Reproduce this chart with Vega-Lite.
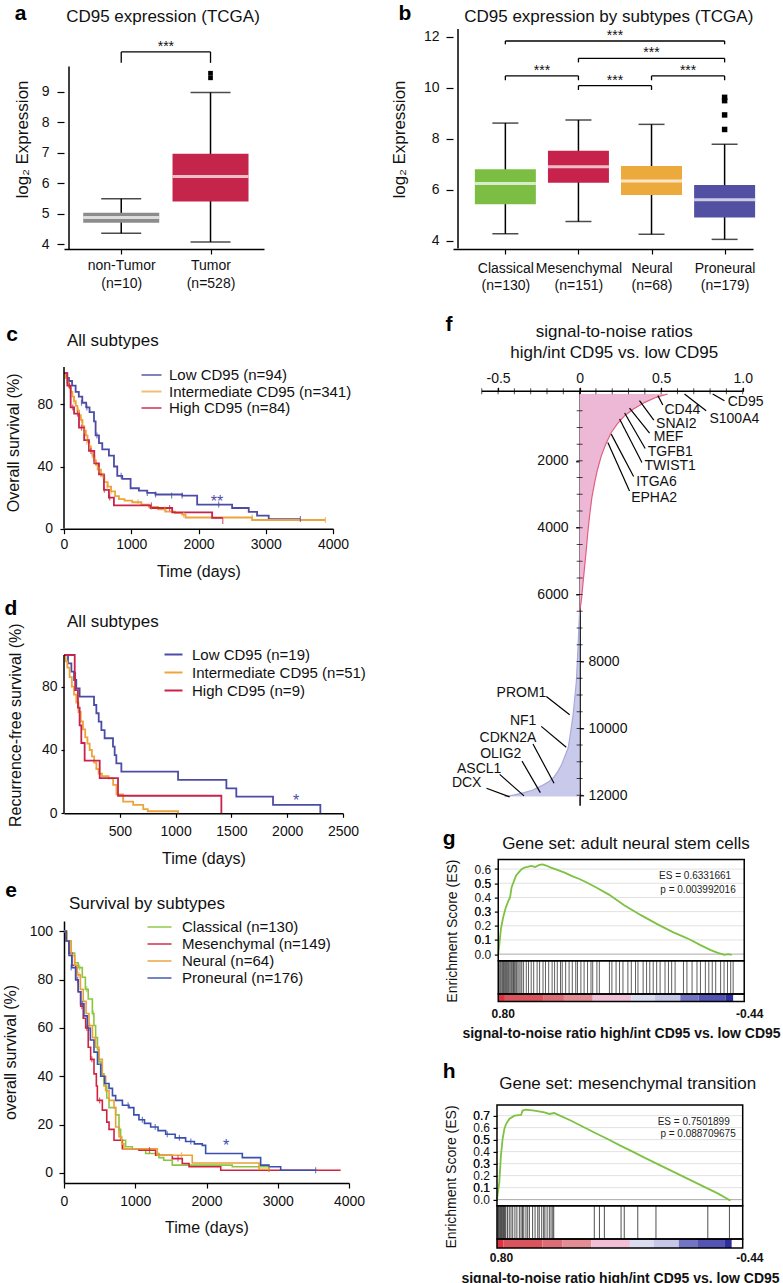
{
"$schema": "https://vega.github.io/schema/vega-lite/v6.json",
"padding": {"left": 2, "top": 2, "right": 0, "bottom": 0},
"autosize": {"type": "pad"},
"spacing": 24,
"resolve": {"scale": {"color": "independent"}, "legend": {"color": "independent"}},
"config": {
  "font": "Liberation Sans",
  "view": {"stroke": null},
  "axis": {"grid": false, "domainColor": "#000", "tickColor": "#000", "labelColor": "#111", "titleColor": "#111", "labelFontSize": 14, "titleFontSize": 16, "titleFontWeight": "normal", "labelFlush": false, "labelOverlap": false, "labelBound": false, "domainWidth": 1.5, "tickWidth": 1.2},
  "legend": {"labelFontSize": 15, "labelLimit": 300, "symbolStrokeWidth": 2, "padding": 0, "labelColor": "#111", "titlePadding": 0},
  "text": {"color": "#111", "font": "Liberation Sans"}
},
"datasets": {
  "aBox": [{"i":0,"grp":"non-Tumor","lo":4.36,"q1":4.70,"med":4.87,"q3":5.03,"hi":5.49},{"i":1,"grp":"Tumor","lo":4.07,"q1":5.40,"med":6.22,"q3":6.96,"hi":8.97}],
  "aOut": [{"i":1,"v":9.45},{"i":1,"v":9.60}],
  "aSig": [{"x1":0,"x2":1,"xm":0.5,"y":10.30,"yt":9.94,"label":"***"}],
  "bBox": [{"i":0,"grp":"Classical","lo":4.27,"q1":5.43,"med":6.24,"q3":6.80,"hi":8.61},{"i":1,"grp":"Mesenchymal","lo":4.75,"q1":6.27,"med":6.90,"q3":7.53,"hi":8.73},{"i":2,"grp":"Neural","lo":4.25,"q1":5.79,"med":6.34,"q3":6.93,"hi":8.56},{"i":3,"grp":"Proneural","lo":4.05,"q1":4.91,"med":5.60,"q3":6.18,"hi":7.78}],
  "bOut": [{"i":3,"v":8.36},{"i":3,"v":8.93},{"i":3,"v":9.49},{"i":3,"v":9.62}],
  "bSig": [{"x1":0,"x2":3,"xm":1.5,"y":11.83,"yt":11.70,"label":"***"},{"x1":1,"x2":3,"xm":2,"y":11.15,"yt":10.99,"label":"***"},{"x1":0,"x2":1,"xm":0.5,"y":10.46,"yt":10.29,"label":"***"},{"x1":1,"x2":2,"xm":1.5,"y":10.08,"yt":9.91,"label":"***"},{"x1":2,"x2":3,"xm":2.5,"y":10.46,"yt":10.29,"label":"***"}],
  "cKM": [
    {"grp":"Low CD95 (n=94)","t":0,"s":100},{"grp":"Low CD95 (n=94)","t":40,"s":97},{"grp":"Low CD95 (n=94)","t":74,"s":95},{"grp":"Low CD95 (n=94)","t":120,"s":92},{"grp":"Low CD95 (n=94)","t":173,"s":88},{"grp":"Low CD95 (n=94)","t":220,"s":85},{"grp":"Low CD95 (n=94)","t":272,"s":81},{"grp":"Low CD95 (n=94)","t":330,"s":78},{"grp":"Low CD95 (n=94)","t":380,"s":75},{"grp":"Low CD95 (n=94)","t":446,"s":69},{"grp":"Low CD95 (n=94)","t":470,"s":60},{"grp":"Low CD95 (n=94)","t":520,"s":55},{"grp":"Low CD95 (n=94)","t":569,"s":51},{"grp":"Low CD95 (n=94)","t":668,"s":47},{"grp":"Low CD95 (n=94)","t":743,"s":40},{"grp":"Low CD95 (n=94)","t":792,"s":34},{"grp":"Low CD95 (n=94)","t":866,"s":32},{"grp":"Low CD95 (n=94)","t":990,"s":26},{"grp":"Low CD95 (n=94)","t":1114,"s":24.5},{"grp":"Low CD95 (n=94)","t":1238,"s":23},{"grp":"Low CD95 (n=94)","t":1361,"s":22},{"grp":"Low CD95 (n=94)","t":1757,"s":21.3},{"grp":"Low CD95 (n=94)","t":1980,"s":15.5},{"grp":"Low CD95 (n=94)","t":2500,"s":13.3},{"grp":"Low CD95 (n=94)","t":2747,"s":10.8},{"grp":"Low CD95 (n=94)","t":2871,"s":8.4},{"grp":"Low CD95 (n=94)","t":3044,"s":6.2},{"grp":"Low CD95 (n=94)","t":3515,"s":6.2},
    {"grp":"Intermediate CD95 (n=341)","t":0,"s":100},{"grp":"Intermediate CD95 (n=341)","t":25,"s":97},{"grp":"Intermediate CD95 (n=341)","t":50,"s":94},{"grp":"Intermediate CD95 (n=341)","t":75,"s":91},{"grp":"Intermediate CD95 (n=341)","t":100,"s":88},{"grp":"Intermediate CD95 (n=341)","t":125,"s":85},{"grp":"Intermediate CD95 (n=341)","t":150,"s":82},{"grp":"Intermediate CD95 (n=341)","t":175,"s":79},{"grp":"Intermediate CD95 (n=341)","t":200,"s":76},{"grp":"Intermediate CD95 (n=341)","t":225,"s":73},{"grp":"Intermediate CD95 (n=341)","t":250,"s":70},{"grp":"Intermediate CD95 (n=341)","t":275,"s":66},{"grp":"Intermediate CD95 (n=341)","t":300,"s":63},{"grp":"Intermediate CD95 (n=341)","t":325,"s":60},{"grp":"Intermediate CD95 (n=341)","t":350,"s":56},{"grp":"Intermediate CD95 (n=341)","t":375,"s":53},{"grp":"Intermediate CD95 (n=341)","t":400,"s":50},{"grp":"Intermediate CD95 (n=341)","t":425,"s":47},{"grp":"Intermediate CD95 (n=341)","t":450,"s":44},{"grp":"Intermediate CD95 (n=341)","t":475,"s":41},{"grp":"Intermediate CD95 (n=341)","t":500,"s":38},{"grp":"Intermediate CD95 (n=341)","t":550,"s":34},{"grp":"Intermediate CD95 (n=341)","t":600,"s":30},{"grp":"Intermediate CD95 (n=341)","t":650,"s":27},{"grp":"Intermediate CD95 (n=341)","t":700,"s":24},{"grp":"Intermediate CD95 (n=341)","t":760,"s":21},{"grp":"Intermediate CD95 (n=341)","t":817,"s":19},{"grp":"Intermediate CD95 (n=341)","t":900,"s":18},{"grp":"Intermediate CD95 (n=341)","t":1015,"s":17},{"grp":"Intermediate CD95 (n=341)","t":1150,"s":15.5},{"grp":"Intermediate CD95 (n=341)","t":1262,"s":14},{"grp":"Intermediate CD95 (n=341)","t":1400,"s":12.5},{"grp":"Intermediate CD95 (n=341)","t":1510,"s":11},{"grp":"Intermediate CD95 (n=341)","t":1650,"s":10},{"grp":"Intermediate CD95 (n=341)","t":1757,"s":9},{"grp":"Intermediate CD95 (n=341)","t":1807,"s":7.2},{"grp":"Intermediate CD95 (n=341)","t":2797,"s":5.6},{"grp":"Intermediate CD95 (n=341)","t":3886,"s":5.6},
    {"grp":"High CD95 (n=84)","t":0,"s":100},{"grp":"High CD95 (n=84)","t":50,"s":92},{"grp":"High CD95 (n=84)","t":99,"s":78},{"grp":"High CD95 (n=84)","t":150,"s":74},{"grp":"High CD95 (n=84)","t":223,"s":65},{"grp":"High CD95 (n=84)","t":300,"s":57},{"grp":"High CD95 (n=84)","t":371,"s":50},{"grp":"High CD95 (n=84)","t":450,"s":42},{"grp":"High CD95 (n=84)","t":520,"s":35},{"grp":"High CD95 (n=84)","t":594,"s":25},{"grp":"High CD95 (n=84)","t":668,"s":20},{"grp":"High CD95 (n=84)","t":742,"s":15},{"grp":"High CD95 (n=84)","t":1287,"s":13.3},{"grp":"High CD95 (n=84)","t":1609,"s":10.5},{"grp":"High CD95 (n=84)","t":2203,"s":7},{"grp":"High CD95 (n=84)","t":2361,"s":7}
  ],
  "cCens": [
    {"grp":"Low CD95 (n=94)","t":260,"s":81},{"grp":"Low CD95 (n=94)","t":340,"s":78},{"grp":"Low CD95 (n=94)","t":490,"s":60},{"grp":"Low CD95 (n=94)","t":850,"s":34},{"grp":"Low CD95 (n=94)","t":1238,"s":23},{"grp":"Low CD95 (n=94)","t":1361,"s":22},{"grp":"Low CD95 (n=94)","t":1600,"s":21.3},{"grp":"Low CD95 (n=94)","t":1757,"s":21.3},{"grp":"Low CD95 (n=94)","t":2300,"s":15.5},{"grp":"Low CD95 (n=94)","t":3515,"s":6.2},
    {"grp":"Intermediate CD95 (n=341)","t":150,"s":82},{"grp":"Intermediate CD95 (n=341)","t":210,"s":76},{"grp":"Intermediate CD95 (n=341)","t":260,"s":70},{"grp":"Intermediate CD95 (n=341)","t":300,"s":63},{"grp":"Intermediate CD95 (n=341)","t":340,"s":56},{"grp":"Intermediate CD95 (n=341)","t":380,"s":53},{"grp":"Intermediate CD95 (n=341)","t":420,"s":47},{"grp":"Intermediate CD95 (n=341)","t":460,"s":44},{"grp":"Intermediate CD95 (n=341)","t":520,"s":38},{"grp":"Intermediate CD95 (n=341)","t":580,"s":34},{"grp":"Intermediate CD95 (n=341)","t":640,"s":27},{"grp":"Intermediate CD95 (n=341)","t":700,"s":24},{"grp":"Intermediate CD95 (n=341)","t":1100,"s":17},{"grp":"Intermediate CD95 (n=341)","t":1300,"s":14},{"grp":"Intermediate CD95 (n=341)","t":1500,"s":12.5},{"grp":"Intermediate CD95 (n=341)","t":1780,"s":9},{"grp":"Intermediate CD95 (n=341)","t":2797,"s":7.2},{"grp":"Intermediate CD95 (n=341)","t":3886,"s":5.6},
    {"grp":"High CD95 (n=84)","t":80,"s":92},{"grp":"High CD95 (n=84)","t":130,"s":78},{"grp":"High CD95 (n=84)","t":200,"s":74},{"grp":"High CD95 (n=84)","t":260,"s":65},{"grp":"High CD95 (n=84)","t":400,"s":50},{"grp":"High CD95 (n=84)","t":600,"s":25},{"grp":"High CD95 (n=84)","t":680,"s":20},{"grp":"High CD95 (n=84)","t":1300,"s":15},{"grp":"High CD95 (n=84)","t":1570,"s":13.3},{"grp":"High CD95 (n=84)","t":2361,"s":5}
  ],
  "dKM": [
    {"grp":"Low CD95 (n=19)","t":0,"s":100},{"grp":"Low CD95 (n=19)","t":36,"s":94.7},{"grp":"Low CD95 (n=19)","t":66,"s":89.5},{"grp":"Low CD95 (n=19)","t":90,"s":84.2},{"grp":"Low CD95 (n=19)","t":110,"s":78.9},{"grp":"Low CD95 (n=19)","t":140,"s":73.7},{"grp":"Low CD95 (n=19)","t":269,"s":68.4},{"grp":"Low CD95 (n=19)","t":290,"s":63.2},{"grp":"Low CD95 (n=19)","t":311,"s":57.9},{"grp":"Low CD95 (n=19)","t":335,"s":52.6},{"grp":"Low CD95 (n=19)","t":364,"s":47.4},{"grp":"Low CD95 (n=19)","t":439,"s":42.1},{"grp":"Low CD95 (n=19)","t":454,"s":36.8},{"grp":"Low CD95 (n=19)","t":469,"s":31.6},{"grp":"Low CD95 (n=19)","t":514,"s":26.3},{"grp":"Low CD95 (n=19)","t":1022,"s":21.1},{"grp":"Low CD95 (n=19)","t":1455,"s":15.8},{"grp":"Low CD95 (n=19)","t":1544,"s":10.5},{"grp":"Low CD95 (n=19)","t":1873,"s":5.3},{"grp":"Low CD95 (n=19)","t":2297,"s":0},
    {"grp":"Intermediate CD95 (n=51)","t":0,"s":100},{"grp":"Intermediate CD95 (n=51)","t":15,"s":96},{"grp":"Intermediate CD95 (n=51)","t":30,"s":92},{"grp":"Intermediate CD95 (n=51)","t":50,"s":86},{"grp":"Intermediate CD95 (n=51)","t":70,"s":80},{"grp":"Intermediate CD95 (n=51)","t":90,"s":75},{"grp":"Intermediate CD95 (n=51)","t":110,"s":70},{"grp":"Intermediate CD95 (n=51)","t":130,"s":64},{"grp":"Intermediate CD95 (n=51)","t":150,"s":58},{"grp":"Intermediate CD95 (n=51)","t":170,"s":53},{"grp":"Intermediate CD95 (n=51)","t":190,"s":48},{"grp":"Intermediate CD95 (n=51)","t":210,"s":44},{"grp":"Intermediate CD95 (n=51)","t":230,"s":40},{"grp":"Intermediate CD95 (n=51)","t":250,"s":36},{"grp":"Intermediate CD95 (n=51)","t":270,"s":32},{"grp":"Intermediate CD95 (n=51)","t":290,"s":28},{"grp":"Intermediate CD95 (n=51)","t":310,"s":25},{"grp":"Intermediate CD95 (n=51)","t":340,"s":23.5},{"grp":"Intermediate CD95 (n=51)","t":400,"s":22},{"grp":"Intermediate CD95 (n=51)","t":440,"s":18},{"grp":"Intermediate CD95 (n=51)","t":470,"s":12},{"grp":"Intermediate CD95 (n=51)","t":530,"s":7.4},{"grp":"Intermediate CD95 (n=51)","t":620,"s":5.3},{"grp":"Intermediate CD95 (n=51)","t":710,"s":2.7},{"grp":"Intermediate CD95 (n=51)","t":750,"s":1.3},{"grp":"Intermediate CD95 (n=51)","t":1022,"s":0},
    {"grp":"High CD95 (n=9)","t":0,"s":100},{"grp":"High CD95 (n=9)","t":96,"s":88.9},{"grp":"High CD95 (n=9)","t":100,"s":77.8},{"grp":"High CD95 (n=9)","t":125,"s":66.7},{"grp":"High CD95 (n=9)","t":140,"s":55.6},{"grp":"High CD95 (n=9)","t":155,"s":44.4},{"grp":"High CD95 (n=9)","t":185,"s":33.3},{"grp":"High CD95 (n=9)","t":320,"s":22.2},{"grp":"High CD95 (n=9)","t":484,"s":11.1},{"grp":"High CD95 (n=9)","t":1410,"s":0}
  ],
  "eKM": [
    {"grp":"Classical (n=130)","t":0,"s":100},{"grp":"Classical (n=130)","t":40,"s":96},{"grp":"Classical (n=130)","t":100,"s":91},{"grp":"Classical (n=130)","t":150,"s":87},{"grp":"Classical (n=130)","t":200,"s":85},{"grp":"Classical (n=130)","t":257,"s":81},{"grp":"Classical (n=130)","t":300,"s":76},{"grp":"Classical (n=130)","t":340,"s":72},{"grp":"Classical (n=130)","t":398,"s":66},{"grp":"Classical (n=130)","t":420,"s":61},{"grp":"Classical (n=130)","t":444,"s":56},{"grp":"Classical (n=130)","t":470,"s":51},{"grp":"Classical (n=130)","t":491,"s":46},{"grp":"Classical (n=130)","t":520,"s":41},{"grp":"Classical (n=130)","t":561,"s":36},{"grp":"Classical (n=130)","t":600,"s":31},{"grp":"Classical (n=130)","t":632,"s":27},{"grp":"Classical (n=130)","t":725,"s":24},{"grp":"Classical (n=130)","t":772,"s":18},{"grp":"Classical (n=130)","t":795,"s":13.5},{"grp":"Classical (n=130)","t":865,"s":10.8},{"grp":"Classical (n=130)","t":960,"s":10},{"grp":"Classical (n=130)","t":1146,"s":8},{"grp":"Classical (n=130)","t":1333,"s":6.3},{"grp":"Classical (n=130)","t":1400,"s":5.2},{"grp":"Classical (n=130)","t":1520,"s":3.2},{"grp":"Classical (n=130)","t":2362,"s":2.5},{"grp":"Classical (n=130)","t":2877,"s":0.5},
    {"grp":"Mesenchymal (n=149)","t":0,"s":100},{"grp":"Mesenchymal (n=149)","t":30,"s":96},{"grp":"Mesenchymal (n=149)","t":70,"s":91},{"grp":"Mesenchymal (n=149)","t":110,"s":86},{"grp":"Mesenchymal (n=149)","t":164,"s":80},{"grp":"Mesenchymal (n=149)","t":200,"s":75},{"grp":"Mesenchymal (n=149)","t":234,"s":69},{"grp":"Mesenchymal (n=149)","t":270,"s":64},{"grp":"Mesenchymal (n=149)","t":304,"s":60},{"grp":"Mesenchymal (n=149)","t":340,"s":52},{"grp":"Mesenchymal (n=149)","t":374,"s":47},{"grp":"Mesenchymal (n=149)","t":421,"s":41},{"grp":"Mesenchymal (n=149)","t":454,"s":36},{"grp":"Mesenchymal (n=149)","t":468,"s":30},{"grp":"Mesenchymal (n=149)","t":538,"s":26},{"grp":"Mesenchymal (n=149)","t":600,"s":21},{"grp":"Mesenchymal (n=149)","t":632,"s":18},{"grp":"Mesenchymal (n=149)","t":702,"s":13.5},{"grp":"Mesenchymal (n=149)","t":819,"s":10},{"grp":"Mesenchymal (n=149)","t":1052,"s":9.4},{"grp":"Mesenchymal (n=149)","t":1286,"s":7.3},{"grp":"Mesenchymal (n=149)","t":1520,"s":5.9},{"grp":"Mesenchymal (n=149)","t":1660,"s":3.9},{"grp":"Mesenchymal (n=149)","t":1755,"s":2.5},{"grp":"Mesenchymal (n=149)","t":2200,"s":1.1},{"grp":"Mesenchymal (n=149)","t":3883,"s":1.1},
    {"grp":"Neural (n=64)","t":0,"s":100},{"grp":"Neural (n=64)","t":40,"s":96},{"grp":"Neural (n=64)","t":100,"s":90},{"grp":"Neural (n=64)","t":150,"s":86},{"grp":"Neural (n=64)","t":187,"s":82},{"grp":"Neural (n=64)","t":230,"s":76},{"grp":"Neural (n=64)","t":270,"s":71},{"grp":"Neural (n=64)","t":310,"s":66},{"grp":"Neural (n=64)","t":351,"s":61},{"grp":"Neural (n=64)","t":400,"s":56},{"grp":"Neural (n=64)","t":444,"s":52},{"grp":"Neural (n=64)","t":491,"s":47},{"grp":"Neural (n=64)","t":538,"s":40},{"grp":"Neural (n=64)","t":585,"s":34},{"grp":"Neural (n=64)","t":632,"s":30},{"grp":"Neural (n=64)","t":702,"s":27},{"grp":"Neural (n=64)","t":725,"s":19},{"grp":"Neural (n=64)","t":772,"s":15},{"grp":"Neural (n=64)","t":810,"s":12},{"grp":"Neural (n=64)","t":840,"s":10},{"grp":"Neural (n=64)","t":1310,"s":7.3},{"grp":"Neural (n=64)","t":1800,"s":4.1},{"grp":"Neural (n=64)","t":2737,"s":1.5},{"grp":"Neural (n=64)","t":2877,"s":1.5},
    {"grp":"Proneural (n=176)","t":0,"s":100},{"grp":"Proneural (n=176)","t":30,"s":96},{"grp":"Proneural (n=176)","t":70,"s":90},{"grp":"Proneural (n=176)","t":110,"s":85},{"grp":"Proneural (n=176)","t":164,"s":80},{"grp":"Proneural (n=176)","t":200,"s":75},{"grp":"Proneural (n=176)","t":234,"s":70},{"grp":"Proneural (n=176)","t":280,"s":65},{"grp":"Proneural (n=176)","t":327,"s":60},{"grp":"Proneural (n=176)","t":370,"s":55},{"grp":"Proneural (n=176)","t":421,"s":50},{"grp":"Proneural (n=176)","t":470,"s":45},{"grp":"Proneural (n=176)","t":515,"s":40},{"grp":"Proneural (n=176)","t":570,"s":37},{"grp":"Proneural (n=176)","t":632,"s":35},{"grp":"Proneural (n=176)","t":680,"s":32},{"grp":"Proneural (n=176)","t":725,"s":30},{"grp":"Proneural (n=176)","t":820,"s":28},{"grp":"Proneural (n=176)","t":912,"s":27},{"grp":"Proneural (n=176)","t":980,"s":24},{"grp":"Proneural (n=176)","t":1052,"s":22},{"grp":"Proneural (n=176)","t":1130,"s":20.5},{"grp":"Proneural (n=176)","t":1216,"s":19},{"grp":"Proneural (n=176)","t":1320,"s":17.5},{"grp":"Proneural (n=176)","t":1427,"s":16},{"grp":"Proneural (n=176)","t":1560,"s":14.5},{"grp":"Proneural (n=176)","t":1707,"s":13},{"grp":"Proneural (n=176)","t":1830,"s":12},{"grp":"Proneural (n=176)","t":1941,"s":11.4},{"grp":"Proneural (n=176)","t":1988,"s":8},{"grp":"Proneural (n=176)","t":2503,"s":6.3},{"grp":"Proneural (n=176)","t":2760,"s":3.2},{"grp":"Proneural (n=176)","t":2877,"s":2.5},{"grp":"Proneural (n=176)","t":3041,"s":1.1},{"grp":"Proneural (n=176)","t":3532,"s":1.1}
  ],
  "eCens": [
    {"grp":"Proneural (n=176)","t":100,"s":85},{"grp":"Proneural (n=176)","t":190,"s":80},{"grp":"Proneural (n=176)","t":260,"s":70},{"grp":"Proneural (n=176)","t":350,"s":60},{"grp":"Proneural (n=176)","t":900,"s":28},{"grp":"Proneural (n=176)","t":1100,"s":22},{"grp":"Proneural (n=176)","t":1280,"s":19},{"grp":"Proneural (n=176)","t":1450,"s":16},{"grp":"Proneural (n=176)","t":1620,"s":14.5},{"grp":"Proneural (n=176)","t":1780,"s":13},{"grp":"Proneural (n=176)","t":3532,"s":1.1},
    {"grp":"Mesenchymal (n=149)","t":250,"s":69},{"grp":"Mesenchymal (n=149)","t":320,"s":60},{"grp":"Mesenchymal (n=149)","t":390,"s":47},{"grp":"Mesenchymal (n=149)","t":500,"s":30},{"grp":"Mesenchymal (n=149)","t":1200,"s":9.4},{"grp":"Mesenchymal (n=149)","t":1600,"s":5.9},
    {"grp":"Classical (n=130)","t":220,"s":85},{"grp":"Classical (n=130)","t":320,"s":76},{"grp":"Classical (n=130)","t":410,"s":66},{"grp":"Classical (n=130)","t":500,"s":46},{"grp":"Classical (n=130)","t":780,"s":18},
    {"grp":"Neural (n=64)","t":210,"s":82},{"grp":"Neural (n=64)","t":360,"s":61},{"grp":"Neural (n=64)","t":1650,"s":7.3},{"grp":"Neural (n=64)","t":2877,"s":1.5}
  ],
  "cStar": [{"t":2275,"s":17,"label":"**"}],
  "dStar": [{"t":2079,"s":7.8,"label":"*"}],
  "eStar": [{"t":2274,"s":11,"label":"*"}],
  "fTitle": [{"label":"signal-to-noise ratios","rank":-1844},{"label":"high/int CD95 vs. low CD95","rank":-1225}],
  "fUp": [{"rank":0,"snr":0.54},{"rank":100,"snr":0.47},{"rank":250,"snr":0.40},{"rank":450,"snr":0.33},{"rank":650,"snr":0.276},{"rank":900,"snr":0.23},{"rank":1150,"snr":0.194},{"rank":1500,"snr":0.16},{"rank":1850,"snr":0.133},{"rank":2250,"snr":0.11},{"rank":2650,"snr":0.092},{"rank":3100,"snr":0.075},{"rank":3650,"snr":0.061},{"rank":4150,"snr":0.05},{"rank":4650,"snr":0.041},{"rank":5200,"snr":0.03},{"rank":5800,"snr":0.018},{"rank":6200,"snr":0.01},{"rank":6500,"snr":0.0}],
  "fDown": [{"rank":6500,"snr":0},{"rank":7000,"snr":-0.005},{"rank":7600,"snr":-0.01},{"rank":8100,"snr":-0.015},{"rank":8600,"snr":-0.02},{"rank":9100,"snr":-0.03},{"rank":9600,"snr":-0.04},{"rank":10100,"snr":-0.055},{"rank":10580,"snr":-0.07},{"rank":11080,"snr":-0.11},{"rank":11300,"snr":-0.135},{"rank":11470,"snr":-0.16},{"rank":11600,"snr":-0.19},{"rank":11720,"snr":-0.235},{"rank":11850,"snr":-0.29},{"rank":11920,"snr":-0.34},{"rank":11990,"snr":-0.40},{"rank":12040,"snr":-0.46}],
  "fYTicks": [{"rank":500},{"rank":1000},{"rank":1500},{"rank":2000},{"rank":2500},{"rank":3000},{"rank":3500},{"rank":4000},{"rank":4500},{"rank":5000},{"rank":5500},{"rank":6000},{"rank":6500},{"rank":7000},{"rank":7500},{"rank":8000},{"rank":8500},{"rank":9000},{"rank":9500},{"rank":10000},{"rank":10500},{"rank":11000},{"rank":11500},{"rank":12000}],
  "fXTicks": [{"snr":-0.6},{"snr":-0.5},{"snr":-0.4},{"snr":-0.3},{"snr":-0.2},{"snr":-0.1},{"snr":0},{"snr":0.1},{"snr":0.2},{"snr":0.3},{"snr":0.4},{"snr":0.5},{"snr":0.6},{"snr":0.7},{"snr":0.8},{"snr":0.9},{"snr":1.0}],
  "fUpGenes": [
    {"gene":"CD95","tx":0.908,"ty":250,"lx1":0.816,"ly1":0,"lx2":0.888,"ly2":200},
    {"gene":"S100A4","tx":0.796,"ty":750,"lx1":0.643,"ly1":0,"lx2":0.776,"ly2":500},
    {"gene":"CD44","tx":0.520,"ty":480,"lx1":0.480,"ly1":50,"lx2":0.510,"ly2":330},
    {"gene":"SNAI2","tx":0.469,"ty":900,"lx1":0.367,"ly1":200,"lx2":0.455,"ly2":780},
    {"gene":"MEF","tx":0.455,"ty":1300,"lx1":0.306,"ly1":420,"lx2":0.429,"ly2":1170},
    {"gene":"TGFB1","tx":0.418,"ty":1750,"lx1":0.276,"ly1":570,"lx2":0.402,"ly2":1630},
    {"gene":"TWIST1","tx":0.398,"ty":2150,"lx1":0.245,"ly1":750,"lx2":0.382,"ly2":2050},
    {"gene":"ITGA6","tx":0.347,"ty":2620,"lx1":0.194,"ly1":1200,"lx2":0.331,"ly2":2470},
    {"gene":"EPHA2","tx":0.316,"ty":3100,"lx1":0.173,"ly1":1450,"lx2":0.306,"ly2":2900}
  ],
  "fDownGenes": [
    {"gene":"PROM1","tx":-0.204,"ty":8930,"lx1":-0.204,"ly1":9049,"lx2":-0.061,"ly2":9594},
    {"gene":"NF1","tx":-0.265,"ty":9772,"lx1":-0.235,"ly1":9940,"lx2":-0.082,"ly2":10564},
    {"gene":"CDKN2A","tx":-0.265,"ty":10287,"lx1":-0.286,"ly1":10465,"lx2":-0.157,"ly2":11643},
    {"gene":"OLIG2","tx":-0.357,"ty":10762,"lx1":-0.353,"ly1":10980,"lx2":-0.241,"ly2":11920},
    {"gene":"ASCL1","tx":-0.480,"ty":11207,"lx1":-0.490,"ly1":11376,"lx2":-0.341,"ly2":12019},
    {"gene":"DCX","tx":-0.602,"ty":11623,"lx1":-0.571,"ly1":11792,"lx2":-0.429,"ly2":12049}
  ],
  "colorBar": [{"seg":1,"x1":0,"x2":2.7},{"seg":2,"x1":2.7,"x2":18.5},{"seg":3,"x1":18.5,"x2":26.7},{"seg":4,"x1":26.7,"x2":38.4},{"seg":5,"x1":38.4,"x2":54.1},{"seg":6,"x1":54.1,"x2":63.7},{"seg":7,"x1":63.7,"x2":74.0},{"seg":8,"x1":74.0,"x2":81.5},{"seg":9,"x1":81.5,"x2":92.5},{"seg":10,"x1":92.5,"x2":95.5}],
  "gGrid": [{"es":0.1},{"es":0.2},{"es":0.3},{"es":0.4},{"es":0.5},{"es":0.6}],
  "gFrame": [{"y1":-0.047,"y2":0.667},{"y1":-0.282,"y2":-0.047},{"y1":-0.335,"y2":-0.282}],
  "gCurve": [{"x":0,"es":0},{"x":0.5,"es":0.08},{"x":1.1,"es":0.18},{"x":2,"es":0.26},{"x":3.1,"es":0.33},{"x":4.1,"es":0.376},{"x":4.8,"es":0.40},{"x":5.4,"es":0.47},{"x":6.5,"es":0.52},{"x":7.2,"es":0.553},{"x":8.5,"es":0.58},{"x":9.5,"es":0.60},{"x":10.6,"es":0.61},{"x":12,"es":0.615},{"x":13.3,"es":0.622},{"x":15,"es":0.615},{"x":16.7,"es":0.63},{"x":18,"es":0.633},{"x":19.5,"es":0.625},{"x":21.4,"es":0.61},{"x":24,"es":0.595},{"x":27,"es":0.575},{"x":30,"es":0.55},{"x":33,"es":0.53},{"x":36,"es":0.505},{"x":40.4,"es":0.465},{"x":45,"es":0.42},{"x":51.2,"es":0.345},{"x":58,"es":0.275},{"x":64.8,"es":0.21},{"x":71,"es":0.155},{"x":75,"es":0.125},{"x":78.3,"es":0.1},{"x":82,"es":0.065},{"x":86.4,"es":0.028},{"x":89,"es":0.01},{"x":91.9,"es":-0.005},{"x":93.5,"es":0.0},{"x":94.9,"es":-0.005}],
  "gHits": [{"hit":0.4},{"hit":0.8},{"hit":1.1},{"hit":1.5},{"hit":1.8},{"hit":2.1},{"hit":2.4},{"hit":2.7},{"hit":3.0},{"hit":3.4},{"hit":3.7},{"hit":4.1},{"hit":4.4},{"hit":4.8},{"hit":5.2},{"hit":5.5},{"hit":5.9},{"hit":6.2},{"hit":6.5},{"hit":6.8},{"hit":7.2},{"hit":7.5},{"hit":8.0},{"hit":8.5},{"hit":9.2},{"hit":9.6},{"hit":10.3},{"hit":11.4},{"hit":12.3},{"hit":13.4},{"hit":14.4},{"hit":15.8},{"hit":16.8},{"hit":18.2},{"hit":19.2},{"hit":20.5},{"hit":21.9},{"hit":22.9},{"hit":24.0},{"hit":25.3},{"hit":26.0},{"hit":27.4},{"hit":28.8},{"hit":30.1},{"hit":31.5},{"hit":32.2},{"hit":33.6},{"hit":34.9},{"hit":36.3},{"hit":37.7},{"hit":38.4},{"hit":40.1},{"hit":41.1},{"hit":45.2},{"hit":46.2},{"hit":47.9},{"hit":49.3},{"hit":50.7},{"hit":52.7},{"hit":54.1},{"hit":55.8},{"hit":56.8},{"hit":58.9},{"hit":60.3},{"hit":61.6},{"hit":63.0},{"hit":64.4},{"hit":65.8},{"hit":67.8},{"hit":69.2},{"hit":70.5},{"hit":71.9},{"hit":75.3},{"hit":76.7},{"hit":78.8},{"hit":80.8},{"hit":82.2},{"hit":84.2},{"hit":85.6},{"hit":87.0},{"hit":88.4},{"hit":90.4},{"hit":91.8},{"hit":93.2},{"hit":94.5},{"hit":95.5}],
  "gText": [{"label":"ES = 0.6331661","x":65.4,"es":0.548},{"label":"p = 0.003992016","x":65.9,"es":0.455}],
  "hGrid": [{"es":0.1},{"es":0.2},{"es":0.3},{"es":0.4},{"es":0.5},{"es":0.6},{"es":0.7}],
  "hFrame": [{"y1":-0.05,"y2":0.788},{"y1":-0.328,"y2":-0.05},{"y1":-0.403,"y2":-0.328}],
  "hCurve": [{"x":0,"es":0},{"x":0.3,"es":0.05},{"x":0.95,"es":0.144},{"x":1.6,"es":0.367},{"x":2.3,"es":0.506},{"x":3,"es":0.589},{"x":3.7,"es":0.63},{"x":5,"es":0.672},{"x":7.1,"es":0.70},{"x":9.8,"es":0.706},{"x":10.4,"es":0.742},{"x":11.8,"es":0.75},{"x":15.2,"es":0.742},{"x":19.3,"es":0.728},{"x":21.3,"es":0.714},{"x":23.3,"es":0.722},{"x":24.7,"es":0.708},{"x":30,"es":0.66},{"x":35,"es":0.607},{"x":40,"es":0.555},{"x":45,"es":0.505},{"x":50,"es":0.452},{"x":55,"es":0.402},{"x":60,"es":0.35},{"x":65,"es":0.30},{"x":70,"es":0.25},{"x":75,"es":0.2},{"x":80,"es":0.15},{"x":85,"es":0.1},{"x":90,"es":0.05},{"x":93,"es":0.015},{"x":95,"es":-0.008}],
  "hHits": [{"hit":0.3},{"hit":0.6},{"hit":0.9},{"hit":1.2},{"hit":1.5},{"hit":1.8},{"hit":2.1},{"hit":2.4},{"hit":2.7},{"hit":3.0},{"hit":3.3},{"hit":3.6},{"hit":4.3},{"hit":5.0},{"hit":5.7},{"hit":6.4},{"hit":7.3},{"hit":8.1},{"hit":9.1},{"hit":9.8},{"hit":10.4},{"hit":10.9},{"hit":11.8},{"hit":12.5},{"hit":13.2},{"hit":14.5},{"hit":15.5},{"hit":16.6},{"hit":17.2},{"hit":18.2},{"hit":19.0},{"hit":19.5},{"hit":20.4},{"hit":21.3},{"hit":22.0},{"hit":22.7},{"hit":23.1},{"hit":39.6},{"hit":41.7},{"hit":43.7},{"hit":50.5},{"hit":51.8},{"hit":57.3},{"hit":64.7},{"hit":85.8},{"hit":94.6}],
  "hText": [{"label":"ES = 0.7501899","x":65.4,"es":0.644},{"label":"p = 0.088709675","x":66.5,"es":0.547}]
},
"hconcat": [
 {
  "bounds": "flush", "spacing": 107,
  "resolve": {"scale": {"color": "independent"}, "legend": {"color": "independent"}},
  "vconcat": [
   {
    "width": 200, "height": 220,
    "layer": [
     {"data": {"name": "aBox"}, "mark": {"type": "rule", "color": "#000", "strokeWidth": 1.5},
      "encoding": {
       "x": {"field": "i", "type": "quantitative", "scale": {"domain": [-0.585, 1.543], "nice": false, "zero": false},
             "axis": {"values": [0, 1], "labelExpr": "datum.value < 0.5 ? ['non-Tumor','(n=10)'] : ['Tumor','(n=528)']", "tickSize": 5, "labelPadding": 4, "labelLineHeight": 18, "title": null}},
       "y": {"field": "lo", "type": "quantitative", "scale": {"domain": [3.84, 11.05], "nice": false, "zero": false},
             "axis": {"values": [4, 5, 6, 7, 8, 9], "domain": false, "tickSize": 7, "labelPadding": 8, "title": "log₂ Expression", "titleFontSize": 17, "titlePadding": 10}},
       "y2": {"field": "hi"}}},
     {"data": {"name": "aBox"}, "mark": {"type": "tick", "orient": "horizontal", "size": 40, "thickness": 1.5, "color": "#000"},
      "encoding": {"x": {"field": "i", "type": "quantitative"}, "y": {"field": "lo", "type": "quantitative"}}},
     {"data": {"name": "aBox"}, "mark": {"type": "tick", "orient": "horizontal", "size": 40, "thickness": 1.5, "color": "#000"},
      "encoding": {"x": {"field": "i", "type": "quantitative"}, "y": {"field": "hi", "type": "quantitative"}}},
     {"data": {"name": "aBox"}, "mark": {"type": "bar", "size": 76},
      "encoding": {"x": {"field": "i", "type": "quantitative"}, "y": {"field": "q1", "type": "quantitative"}, "y2": {"field": "q3"},
       "color": {"field": "grp", "type": "nominal", "scale": {"domain": ["non-Tumor", "Tumor"], "range": ["#8C8C8C", "#C5254B"]}, "legend": null}}},
     {"data": {"name": "aBox"}, "mark": {"type": "tick", "orient": "horizontal", "size": 76, "thickness": 3, "color": "#fff"},
      "encoding": {"x": {"field": "i", "type": "quantitative"}, "y": {"field": "med", "type": "quantitative"}}},
     {"data": {"name": "aOut"}, "mark": {"type": "point", "shape": "square", "filled": true, "size": 22, "color": "#000", "opacity": 1},
      "encoding": {"x": {"field": "i", "type": "quantitative"}, "y": {"field": "v", "type": "quantitative"}}},
     {"data": {"name": "aSig"}, "mark": {"type": "rule", "color": "#000", "strokeWidth": 1.3},
      "encoding": {"x": {"field": "x1", "type": "quantitative"}, "x2": {"field": "x2"}, "y": {"field": "y", "type": "quantitative"}}},
     {"data": {"name": "aSig"}, "mark": {"type": "rule", "color": "#000", "strokeWidth": 1.3},
      "encoding": {"x": {"field": "x1", "type": "quantitative"}, "y": {"field": "y", "type": "quantitative"}, "y2": {"field": "yt"}}},
     {"data": {"name": "aSig"}, "mark": {"type": "rule", "color": "#000", "strokeWidth": 1.3},
      "encoding": {"x": {"field": "x2", "type": "quantitative"}, "y": {"field": "y", "type": "quantitative"}, "y2": {"field": "yt"}}},
     {"data": {"name": "aSig"}, "mark": {"type": "text", "baseline": "alphabetic", "dy": -1, "fontSize": 14},
      "encoding": {"x": {"field": "xm", "type": "quantitative"}, "y": {"field": "y", "type": "quantitative"}, "text": {"field": "label"}}},
     {"data": {"values": [{"k": "axis"}]}, "mark": {"type": "rule", "color": "#000", "strokeWidth": 1.5},
      "encoding": {"x": {"datum": -0.585}, "y": {"datum": 3.84}, "y2": {"datum": 9.82}}},
     {"data": {"values": [{"t": "CD95 expression (TCGA)"}]}, "mark": {"type": "text", "fontSize": 17, "baseline": "middle", "align": "left"},
      "encoding": {"x": {"datum": -0.617}, "y": {"datum": 11.443}, "text": {"field": "t"}}},
     {"data": {"values": [{"t": "a"}]}, "mark": {"type": "text", "fontSize": 21, "fontWeight": "bold", "baseline": "middle", "align": "center", "color": "#000"},
      "encoding": {"x": {"datum": -1.128}, "y": {"datum": 11.54}, "text": {"field": "t"}}}
    ]
   },
   {
    "width": 269, "height": 172.7,
    "layer": [
     {"data": {"name": "cKM"}, "mark": {"type": "line", "interpolate": "step-after", "strokeWidth": 1.8},
      "encoding": {
       "x": {"field": "t", "type": "quantitative", "scale": {"domain": [0, 4000], "nice": false, "zero": false},
             "axis": {"values": [0, 1000, 2000, 3000, 4000], "format": "d", "tickSize": 5, "labelPadding": 4, "title": "Time (days)", "titlePadding": 12}},
       "y": {"field": "s", "type": "quantitative", "scale": {"domain": [0, 111.07], "nice": false, "zero": false},
             "axis": {"values": [0, 20, 40, 60, 80, 100], "domain": false, "tickSize": 4, "labelPadding": 7.5, "title": "Overall survival (%)", "titlePadding": 15}},
       "color": {"field": "grp", "type": "nominal", "scale": {"domain": ["Low CD95 (n=94)", "Intermediate CD95 (n=341)", "High CD95 (n=84)"], "range": ["#4C4CA6", "#ECA43C", "#C8234B"]},
                 "legend": {"title": null, "orient": "none", "legendX": 80, "legendY": 11.5, "symbolType": "M-2,0H2", "symbolSize": 100, "labelOffset": 10, "rowPadding": 0.5}}}},
     {"data": {"name": "cCens"}, "mark": {"type": "tick", "orient": "vertical", "size": 6, "thickness": 1.2},
      "encoding": {"x": {"field": "t", "type": "quantitative"}, "y": {"field": "s", "type": "quantitative"}, "color": {"field": "grp", "type": "nominal"}}},
     {"data": {"values": [{"k": "axis"}]}, "mark": {"type": "rule", "color": "#000", "strokeWidth": 1.5},
      "encoding": {"x": {"datum": 0}, "y": {"datum": 0}, "y2": {"datum": 104}}},
     {"data": {"name": "cStar"}, "mark": {"type": "text", "baseline": "middle", "fontSize": 16, "color": "#4C4CA6"},
      "encoding": {"x": {"field": "t", "type": "quantitative"}, "y": {"field": "s", "type": "quantitative"}, "text": {"field": "label"}}},
     {"data": {"values": [{"t": "All subtypes"}]}, "mark": {"type": "text", "fontSize": 17, "baseline": "middle", "align": "left"},
      "encoding": {"x": {"datum": 44.6}, "y": {"datum": 120.7}, "text": {"field": "t"}}},
     {"data": {"values": [{"t": "c"}]}, "mark": {"type": "text", "fontSize": 21, "fontWeight": "bold", "baseline": "middle", "align": "center", "color": "#000"},
      "encoding": {"x": {"datum": -773}, "y": {"datum": 124.6}, "text": {"field": "t"}}}
    ]
   },
   {
    "width": 279, "height": 177.3,
    "layer": [
     {"data": {"name": "dKM"}, "mark": {"type": "line", "interpolate": "step-after", "strokeWidth": 1.8},
      "encoding": {
       "x": {"field": "t", "type": "quantitative", "scale": {"domain": [0, 2500], "nice": false, "zero": false},
             "axis": {"values": [500, 1000, 1500, 2000, 2500], "format": "d", "tickSize": 4, "labelPadding": 7, "title": "Time (days)", "titlePadding": 12}},
       "y": {"field": "s", "type": "quantitative", "scale": {"domain": [0, 112], "nice": false, "zero": false},
             "axis": {"values": [0, 20, 40, 60, 80, 100], "domain": false, "tickSize": 3, "labelPadding": 4, "title": "Recurrence-free survival (%)", "titlePadding": 18.3}},
       "color": {"field": "grp", "type": "nominal", "scale": {"domain": ["Low CD95 (n=19)", "Intermediate CD95 (n=51)", "High CD95 (n=9)"], "range": ["#4C4CA6", "#ECA43C", "#C8234B"]},
                 "legend": {"title": null, "orient": "none", "legendX": 102, "legendY": 11, "symbolType": "M-1.8,0H1.8", "symbolSize": 100, "labelOffset": 11, "rowPadding": 2}}}},
     {"data": {"values": [{"k": "axis"}]}, "mark": {"type": "rule", "color": "#000", "strokeWidth": 1.5},
      "encoding": {"x": {"datum": 0}, "y": {"datum": 0}, "y2": {"datum": 100}}},
     {"data": {"name": "dStar"}, "mark": {"type": "text", "baseline": "middle", "fontSize": 16, "color": "#4C4CA6"},
      "encoding": {"x": {"field": "t", "type": "quantitative"}, "y": {"field": "s", "type": "quantitative"}, "text": {"field": "label"}}},
     {"data": {"values": [{"t": "All subtypes"}]}, "mark": {"type": "text", "fontSize": 17, "baseline": "middle", "align": "left"},
      "encoding": {"x": {"datum": 27}, "y": {"datum": 120.65}, "text": {"field": "t"}}},
     {"data": {"values": [{"t": "d"}]}, "mark": {"type": "text", "fontSize": 21, "fontWeight": "bold", "baseline": "middle", "align": "center", "color": "#000"},
      "encoding": {"x": {"datum": -475}, "y": {"datum": 128.9}, "text": {"field": "t"}}}
    ]
   },
   {
    "width": 285, "height": 262,
    "layer": [
     {"data": {"name": "eKM"}, "mark": {"type": "line", "interpolate": "step-after", "strokeWidth": 1.6},
      "encoding": {
       "x": {"field": "t", "type": "quantitative", "scale": {"domain": [0, 4000], "nice": false, "zero": false},
             "axis": {"values": [0, 1000, 2000, 3000, 4000], "format": "d", "tickSize": 5, "labelPadding": 6, "title": "Time (days)", "titlePadding": 11}},
       "y": {"field": "s", "type": "quantitative", "scale": {"domain": [-4.2, 104.3], "nice": false, "zero": false},
             "axis": {"values": [0, 20, 40, 60, 80, 100], "tickSize": 5, "labelPadding": 6.5, "title": "overall survival (%)", "titlePadding": 10.2}},
       "color": {"field": "grp", "type": "nominal", "scale": {"domain": ["Classical (n=130)", "Mesenchymal (n=149)", "Neural (n=64)", "Proneural (n=176)"], "range": ["#8CC63F", "#D0233F", "#EBA03A", "#3A4FAE"]},
                 "legend": {"title": null, "orient": "none", "legendX": 88, "legendY": -1.5, "symbolType": "M-2.4,0H2.4", "symbolSize": 100, "labelOffset": 15, "rowPadding": 1}}}},
     {"data": {"name": "eCens"}, "mark": {"type": "tick", "orient": "vertical", "size": 6, "thickness": 1.2},
      "encoding": {"x": {"field": "t", "type": "quantitative"}, "y": {"field": "s", "type": "quantitative"}, "color": {"field": "grp", "type": "nominal"}}},
     {"data": {"name": "eStar"}, "mark": {"type": "text", "baseline": "middle", "fontSize": 16, "color": "#3A4FAE"},
      "encoding": {"x": {"field": "t", "type": "quantitative"}, "y": {"field": "s", "type": "quantitative"}, "text": {"field": "label"}}},
     {"data": {"values": [{"t": "Survival by subtypes"}]}, "mark": {"type": "text", "fontSize": 17, "baseline": "middle", "align": "left"},
      "encoding": {"x": {"datum": 70}, "y": {"datum": 111.3}, "text": {"field": "t"}}},
     {"data": {"values": [{"t": "e"}]}, "mark": {"type": "text", "fontSize": 21, "fontWeight": "bold", "baseline": "middle", "align": "center", "color": "#000"},
      "encoding": {"x": {"datum": -744}, "y": {"datum": 116.7}, "text": {"field": "t"}}}
    ]
   }
  ]
 },
 {
  "bounds": "flush", "spacing": 54.3,
  "resolve": {"scale": {"color": "independent"}, "legend": {"color": "independent"}},
  "vconcat": [
   {
    "width": 300, "height": 307.7,
    "layer": [
     {"data": {"name": "bBox"}, "mark": {"type": "rule", "color": "#000", "strokeWidth": 1.5},
      "encoding": {
       "x": {"field": "i", "type": "quantitative", "scale": {"domain": [-0.648, 3.32], "nice": false, "zero": false},
             "axis": {"values": [0, 1, 2, 3], "offset": -87.7, "labelExpr": "[['Classical','(n=130)'],['Mesenchymal','(n=151)'],['Neural','(n=68)'],['Proneural','(n=179)']][round(datum.value)]", "tickSize": 5, "labelPadding": 7, "labelLineHeight": 17, "title": null}},
       "y": {"field": "lo", "type": "quantitative", "scale": {"domain": [0.233, 12.3], "nice": false, "zero": false},
             "axis": {"values": [4, 6, 8, 10, 12], "domain": false, "tickSize": 7, "labelPadding": 7, "title": "log₂ Expression", "titleFontSize": 17, "titlePadding": 15, "titleY": 110}},
       "y2": {"field": "hi"}}},
     {"data": {"name": "bBox"}, "mark": {"type": "tick", "orient": "horizontal", "size": 26, "thickness": 1.5, "color": "#000"},
      "encoding": {"x": {"field": "i", "type": "quantitative"}, "y": {"field": "lo", "type": "quantitative"}}},
     {"data": {"name": "bBox"}, "mark": {"type": "tick", "orient": "horizontal", "size": 26, "thickness": 1.5, "color": "#000"},
      "encoding": {"x": {"field": "i", "type": "quantitative"}, "y": {"field": "hi", "type": "quantitative"}}},
     {"data": {"name": "bBox"}, "mark": {"type": "bar", "size": 61},
      "encoding": {"x": {"field": "i", "type": "quantitative"}, "y": {"field": "q1", "type": "quantitative"}, "y2": {"field": "q3"},
       "color": {"field": "grp", "type": "nominal", "scale": {"domain": ["Classical", "Mesenchymal", "Neural", "Proneural"], "range": ["#7CBE44", "#C7224B", "#ECA93C", "#5150A2"]}, "legend": null}}},
     {"data": {"name": "bBox"}, "mark": {"type": "tick", "orient": "horizontal", "size": 61, "thickness": 3, "color": "#fff"},
      "encoding": {"x": {"field": "i", "type": "quantitative"}, "y": {"field": "med", "type": "quantitative"}}},
     {"data": {"name": "bOut"}, "mark": {"type": "point", "shape": "square", "filled": true, "size": 30, "color": "#000", "opacity": 1},
      "encoding": {"x": {"field": "i", "type": "quantitative"}, "y": {"field": "v", "type": "quantitative"}}},
     {"data": {"name": "bSig"}, "mark": {"type": "rule", "color": "#000", "strokeWidth": 1.3},
      "encoding": {"x": {"field": "x1", "type": "quantitative"}, "x2": {"field": "x2"}, "y": {"field": "y", "type": "quantitative"}}},
     {"data": {"name": "bSig"}, "mark": {"type": "rule", "color": "#000", "strokeWidth": 1.3},
      "encoding": {"x": {"field": "x1", "type": "quantitative"}, "y": {"field": "y", "type": "quantitative"}, "y2": {"field": "yt"}}},
     {"data": {"name": "bSig"}, "mark": {"type": "rule", "color": "#000", "strokeWidth": 1.3},
      "encoding": {"x": {"field": "x2", "type": "quantitative"}, "y": {"field": "y", "type": "quantitative"}, "y2": {"field": "yt"}}},
     {"data": {"name": "bSig"}, "mark": {"type": "text", "baseline": "alphabetic", "dy": -1, "fontSize": 14},
      "encoding": {"x": {"field": "xm", "type": "quantitative"}, "y": {"field": "y", "type": "quantitative"}, "text": {"field": "label"}}},
     {"data": {"values": [{"k": "axis"}]}, "mark": {"type": "rule", "color": "#000", "strokeWidth": 1.5},
      "encoding": {"x": {"datum": -0.648}, "y": {"datum": 3.69}, "y2": {"datum": 12.3}}},
     {"data": {"values": [{"t": "CD95 expression by subtypes (TCGA)"}]}, "mark": {"type": "text", "fontSize": 17, "baseline": "middle", "align": "center"},
      "encoding": {"x": {"datum": 1.415}, "y": {"datum": 12.77}, "text": {"field": "t"}}},
     {"data": {"values": [{"t": "b"}]}, "mark": {"type": "text", "fontSize": 21, "fontWeight": "bold", "baseline": "middle", "align": "center", "color": "#000"},
      "encoding": {"x": {"datum": -1.375}, "y": {"datum": 12.89}, "text": {"field": "t"}}}
    ]
   },
   {
    "width": 289.7, "height": 414,
    "resolve": {"axis": {"y": "independent"}},
    "layer": [
     {"data": {"name": "fUp"}, "mark": {"type": "area", "orient": "horizontal", "color": "#EDB8D5"},
      "encoding": {
       "x": {"field": "snr", "type": "quantitative", "scale": {"domain": [-0.7764, 1.0], "nice": false, "zero": false},
             "axis": {"orient": "top", "values": [-0.5, 0, 0.5, 1.0], "labelExpr": "datum.value == 0 ? '0' : (datum.value < 0 ? '-' : '') + format(abs(datum.value), '.1f')", "domain": false, "tickSize": 4, "labelPadding": 2, "title": null}},
       "y": {"field": "rank", "type": "quantitative", "scale": {"domain": [-80, 12300], "reverse": true, "nice": false, "zero": false},
             "axis": {"orient": "left", "offset": -126.6, "values": [2000, 4000, 6000], "format": "d", "tickSize": 4, "labelPadding": 7.6, "title": null}},
       "x2": {"datum": 0}}},
     {"data": {"name": "fDown"}, "mark": {"type": "area", "orient": "horizontal", "color": "#C9C9EC"},
      "encoding": {"x": {"field": "snr", "type": "quantitative"},
       "y": {"field": "rank", "type": "quantitative", "axis": {"orient": "right", "offset": -163.1, "values": [8000, 10000, 12000], "format": "d", "domain": false, "tickSize": 4, "labelPadding": 4.4, "title": null}},
       "x2": {"datum": 0}}},
     {"data": {"name": "fUp"}, "mark": {"type": "line", "color": "#E0607E", "strokeWidth": 1.2},
      "encoding": {"x": {"field": "snr", "type": "quantitative"}, "y": {"field": "rank", "type": "quantitative", "axis": null}, "order": {"field": "rank", "type": "quantitative"}}},
     {"data": {"name": "fDown"}, "mark": {"type": "line", "color": "#A9A9DA", "strokeWidth": 1.2},
      "encoding": {"x": {"field": "snr", "type": "quantitative"}, "y": {"field": "rank", "type": "quantitative", "axis": null}, "order": {"field": "rank", "type": "quantitative"}}},
     {"data": {"values": [{"k": "axis"}]}, "mark": {"type": "rule", "color": "#000", "strokeWidth": 1.5},
      "encoding": {"x": {"datum": -0.6}, "x2": {"datum": 1.0}, "y": {"datum": -80, "axis": null}}},
     {"data": {"name": "fXTicks"}, "mark": {"type": "tick", "orient": "vertical", "size": 6, "thickness": 1, "color": "#000"},
      "encoding": {"x": {"field": "snr", "type": "quantitative"}, "y": {"datum": -80, "axis": null}}},
     {"data": {"name": "fYTicks"}, "mark": {"type": "tick", "orient": "horizontal", "size": 6, "thickness": 1, "color": "#000"},
      "encoding": {"x": {"datum": 0}, "y": {"field": "rank", "type": "quantitative", "axis": null}}},
     {"data": {"name": "fUpGenes"}, "mark": {"type": "rule", "color": "#000", "strokeWidth": 1.2},
      "encoding": {"x": {"field": "lx1", "type": "quantitative"}, "x2": {"field": "lx2"}, "y": {"field": "ly1", "type": "quantitative", "axis": null}, "y2": {"field": "ly2"}}},
     {"data": {"name": "fDownGenes"}, "mark": {"type": "rule", "color": "#000", "strokeWidth": 1.2},
      "encoding": {"x": {"field": "lx1", "type": "quantitative"}, "x2": {"field": "lx2"}, "y": {"field": "ly1", "type": "quantitative", "axis": null}, "y2": {"field": "ly2"}}},
     {"data": {"name": "fUpGenes"}, "mark": {"type": "text", "align": "left", "baseline": "middle", "fontSize": 14},
      "encoding": {"x": {"field": "tx", "type": "quantitative"}, "y": {"field": "ty", "type": "quantitative", "axis": null}, "text": {"field": "gene"}}},
     {"data": {"name": "fDownGenes"}, "mark": {"type": "text", "align": "right", "baseline": "middle", "fontSize": 14},
      "encoding": {"x": {"field": "tx", "type": "quantitative"}, "y": {"field": "ty", "type": "quantitative", "axis": null}, "text": {"field": "gene"}}},
     {"data": {"name": "fTitle"}, "mark": {"type": "text", "align": "center", "baseline": "middle", "fontSize": 17},
      "encoding": {"x": {"datum": 0.2123}, "y": {"field": "rank", "type": "quantitative", "axis": null}, "text": {"field": "label"}}},
     {"data": {"values": [{"t": "f"}]}, "mark": {"type": "text", "fontSize": 21, "fontWeight": "bold", "baseline": "middle", "align": "center", "color": "#000"},
      "encoding": {"x": {"datum": -0.801}, "y": {"datum": -2054, "axis": null}, "text": {"field": "t"}}}
    ]
   },
   {
    "width": 298.6, "height": 142,
    "resolve": {"axis": {"y": "independent"}},
    "layer": [
     {"data": {"name": "gGrid"}, "mark": {"type": "rule", "color": "#e2e2e2", "strokeWidth": 1},
      "encoding": {
       "x": {"datum": 0, "type": "quantitative", "scale": {"domain": [-18.4, 103], "nice": false, "zero": false},
             "axis": {"values": [1.8, 102], "labelExpr": "datum.value < 50 ? '0.80' : '-0.44'", "domain": false, "ticks": false, "tickSize": 0, "labelFontWeight": "bold", "labelFontSize": 12, "labelPadding": 6.4, "title": "signal-to-noise ratio high/int CD95 vs. low CD95", "titleFontWeight": "bold", "titleFontSize": 14, "titleX": 168, "titleY": 31.4, "titleBaseline": "middle", "titleAlign": "center"}},
       "x2": {"datum": 100},
       "y": {"field": "es", "type": "quantitative", "scale": {"domain": [-0.335, 0.667], "nice": false, "zero": false},
             "axis": {"orient": "left", "values": [0, 0.1, 0.2, 0.3, 0.4, 0.5, 0.6], "format": ".1f", "offset": -45.3, "domain": false, "tickSize": 4, "labelPadding": 3.5, "labelFontSize": 12, "title": "Enrichment Score (ES)", "titleFontSize": 14, "titleX": -45.6, "titleY": 71, "titleBaseline": "middle", "titleAlign": "center", "titleAngle": 270}}}},
     {"data": {"values": [{"k": "zero"}]}, "mark": {"type": "rule", "color": "#aaa", "strokeWidth": 1},
      "encoding": {"x": {"datum": 0}, "x2": {"datum": 100},
       "y": {"datum": 0, "axis": {"orient": "right", "offset": -253.3, "values": [0.1, 0.3, 0.5], "format": ".1f", "domain": false, "ticks": false, "tickSize": 0, "labelPadding": -7.5, "labelAlign": "right", "labelFontSize": 12, "title": null}}}},
     {"data": {"name": "colorBar"}, "mark": {"type": "rect"},
      "encoding": {"x": {"field": "x1", "type": "quantitative"}, "x2": {"field": "x2"}, "y": {"datum": -0.282, "axis": null}, "y2": {"datum": -0.335},
       "color": {"field": "seg", "type": "nominal", "scale": {"domain": [1, 2, 3, 4, 5, 6, 7, 8, 9, 10], "range": ["#E0313F", "#D9545D", "#DC6D77", "#E38C93", "#F0BFD5", "#DCDCF1", "#C6C6E8", "#7474C4", "#5454B4", "#2E2EA0"]}, "legend": null}}},
     {"data": {"name": "gHits"}, "mark": {"type": "rule", "color": "#444", "strokeWidth": 1, "opacity": 0.85},
      "encoding": {"x": {"field": "hit", "type": "quantitative"}, "y": {"datum": -0.047, "axis": null}, "y2": {"datum": -0.282}}},
     {"data": {"name": "gCurve"}, "mark": {"type": "line", "color": "#7DC242", "strokeWidth": 1.8},
      "encoding": {"x": {"field": "x", "type": "quantitative"}, "y": {"field": "es", "type": "quantitative", "axis": null}}},
     {"data": {"name": "gFrame"}, "mark": {"type": "rect", "fillOpacity": 0, "stroke": "#000", "strokeWidth": 1.5},
      "encoding": {"x": {"datum": 0}, "x2": {"datum": 100}, "y": {"field": "y1", "type": "quantitative", "axis": null}, "y2": {"field": "y2"}}},
     {"data": {"name": "gText"}, "mark": {"type": "text", "align": "left", "baseline": "middle", "fontSize": 10, "color": "#222"},
      "encoding": {"x": {"field": "x", "type": "quantitative"}, "y": {"field": "es", "type": "quantitative", "axis": null}, "text": {"field": "label"}}},
     {"data": {"values": [{"t": "Gene set: adult neural stem cells"}]}, "mark": {"type": "text", "fontSize": 17, "baseline": "middle", "align": "center"},
      "encoding": {"x": {"datum": 51.9}, "y": {"datum": 0.777, "axis": null}, "text": {"field": "t"}}},
     {"data": {"values": [{"t": "g"}]}, "mark": {"type": "text", "fontSize": 21, "fontWeight": "bold", "baseline": "middle", "align": "center", "color": "#000"},
      "encoding": {"x": {"datum": -20.0}, "y": {"datum": 0.81, "axis": null}, "text": {"field": "t"}}}
    ]
   },
   {
    "width": 298.3, "height": 192.1,
    "resolve": {"axis": {"y": "independent"}},
    "layer": [
     {"data": {"name": "hGrid"}, "mark": {"type": "rule", "color": "#e2e2e2", "strokeWidth": 1},
      "encoding": {
       "x": {"datum": 0, "type": "quantitative", "scale": {"domain": [-17.9, 103.5], "nice": false, "zero": false},
             "axis": {"values": [1.6, 102.7], "labelExpr": "datum.value < 50 ? '0.80' : '-0.44'", "domain": false, "ticks": false, "tickSize": 0, "labelFontWeight": "bold", "labelFontSize": 12, "labelPadding": 4.3, "title": "signal-to-noise ratio high/int CD95 vs. low CD95", "titleFontWeight": "bold", "titleFontSize": 14, "titleX": 167, "titleY": 30, "titleBaseline": "middle", "titleAlign": "center"}},
       "x2": {"datum": 100},
       "y": {"field": "es", "type": "quantitative", "scale": {"domain": [-0.403, 1.1978], "nice": false, "zero": false},
             "axis": {"orient": "left", "values": [0, 0.1, 0.2, 0.3, 0.4, 0.5, 0.6, 0.7], "format": ".1f", "offset": -44, "domain": false, "tickSize": 4, "labelPadding": 3.5, "labelFontSize": 12, "title": "Enrichment Score (ES)", "titleFontSize": 14, "titleX": -46, "titleY": 120.6, "titleBaseline": "middle", "titleAlign": "center", "titleAngle": 270}}}},
     {"data": {"values": [{"k": "zero"}]}, "mark": {"type": "rule", "color": "#aaa", "strokeWidth": 1},
      "encoding": {"x": {"datum": 0}, "x2": {"datum": 100},
       "y": {"datum": 0, "axis": {"orient": "right", "offset": -254.3, "values": [0.1, 0.3, 0.5, 0.7], "format": ".1f", "domain": false, "ticks": false, "tickSize": 0, "labelPadding": -7.5, "labelAlign": "right", "labelFontSize": 12, "title": null}}}},
     {"data": {"name": "colorBar"}, "mark": {"type": "rect"},
      "encoding": {"x": {"field": "x1", "type": "quantitative"}, "x2": {"field": "x2"}, "y": {"datum": -0.328, "axis": null}, "y2": {"datum": -0.403},
       "color": {"field": "seg", "type": "nominal", "scale": {"domain": [1, 2, 3, 4, 5, 6, 7, 8, 9, 10], "range": ["#E0313F", "#D9545D", "#DC6D77", "#E38C93", "#F0BFD5", "#DCDCF1", "#C6C6E8", "#7474C4", "#5454B4", "#2E2EA0"]}, "legend": null}}},
     {"data": {"name": "hHits"}, "mark": {"type": "rule", "color": "#333", "strokeWidth": 1, "opacity": 0.85},
      "encoding": {"x": {"field": "hit", "type": "quantitative"}, "y": {"datum": -0.05, "axis": null}, "y2": {"datum": -0.328}}},
     {"data": {"name": "hCurve"}, "mark": {"type": "line", "color": "#7DC242", "strokeWidth": 1.8},
      "encoding": {"x": {"field": "x", "type": "quantitative"}, "y": {"field": "es", "type": "quantitative", "axis": null}}},
     {"data": {"name": "hFrame"}, "mark": {"type": "rect", "fillOpacity": 0, "stroke": "#000", "strokeWidth": 1.5},
      "encoding": {"x": {"datum": 0}, "x2": {"datum": 100}, "y": {"field": "y1", "type": "quantitative", "axis": null}, "y2": {"field": "y2"}}},
     {"data": {"name": "hText"}, "mark": {"type": "text", "align": "left", "baseline": "middle", "fontSize": 10, "color": "#222"},
      "encoding": {"x": {"field": "x", "type": "quantitative"}, "y": {"field": "es", "type": "quantitative", "axis": null}, "text": {"field": "label"}}},
     {"data": {"values": [{"t": "Gene set: mesenchymal transition"}]}, "mark": {"type": "text", "fontSize": 17, "baseline": "middle", "align": "center"},
      "encoding": {"x": {"datum": 53.2}, "y": {"datum": 0.9605, "axis": null}, "text": {"field": "t"}}},
     {"data": {"values": [{"t": "h"}]}, "mark": {"type": "text", "fontSize": 21, "fontWeight": "bold", "baseline": "middle", "align": "center", "color": "#000"},
      "encoding": {"x": {"datum": -19.5}, "y": {"datum": 1.06, "axis": null}, "text": {"field": "t"}}}
    ]
   }
  ]
 }
]
}
